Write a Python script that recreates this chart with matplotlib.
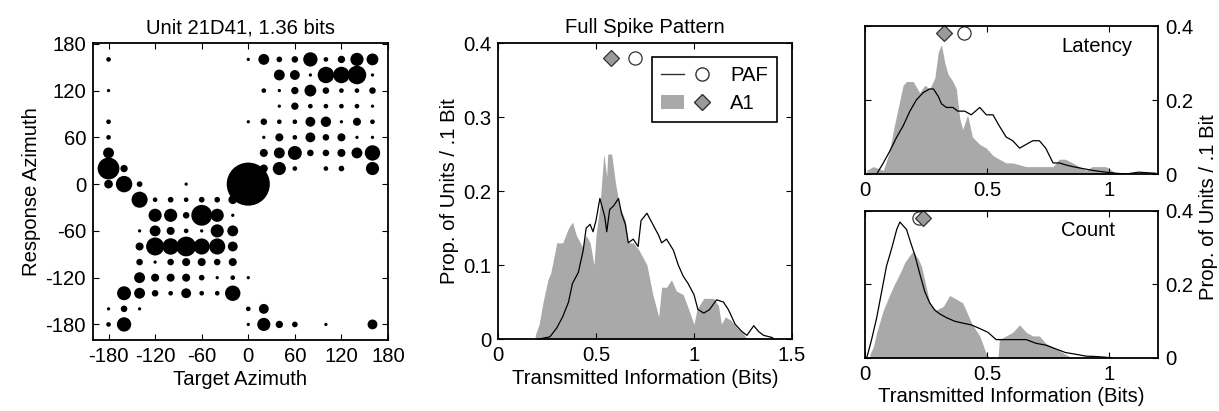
import numpy as np
import matplotlib.pyplot as plt
from matplotlib.lines import Line2D
from matplotlib.patches import Patch
from matplotlib.legend_handler import HandlerTuple

plt.rcParams['font.family'] = ['Liberation Sans', 'DejaVu Sans']
plt.rcParams['font.size'] = 14.6
plt.rcParams['axes.unicode_minus'] = False
FS = 14.6

# confusion matrix of unit 21D41: rows = response azimuth (160 .. -180), cols = target azimuth (-180 .. 160)
azimuths = list(range(-180, 180, 20))
responses = list(range(160, -200, -20))
counts = [
    [2, 0, 0, 0, 0, 0, 0, 0, 0, 1, 11, 3, 4, 19, 2, 5, 16, 13],
    [0, 0, 0, 0, 0, 0, 0, 0, 0, 0, 0, 11, 9, 1, 25, 25, 32, 1],
    [1, 0, 0, 0, 0, 0, 0, 0, 0, 0, 2, 1, 5, 13, 4, 2, 2, 4],
    [0, 0, 0, 0, 0, 0, 0, 0, 0, 0, 0, 1, 5, 2, 2, 2, 2, 1],
    [2, 0, 0, 0, 0, 0, 0, 0, 0, 1, 4, 2, 2, 9, 10, 1, 6, 2],
    [2, 0, 0, 0, 0, 0, 0, 0, 0, 0, 1, 6, 2, 9, 4, 6, 1, 1],
    [11, 0, 0, 0, 0, 0, 0, 0, 0, 0, 6, 11, 18, 4, 4, 6, 11, 22],
    [44, 5, 0, 0, 0, 0, 0, 0, 0, 0, 6, 16, 2, 0, 2, 3, 0, 16],
    [7, 25, 3, 0, 0, 1, 0, 0, 0, 172, 0, 0, 0, 0, 0, 0, 0, 0],
    [0, 0, 24, 2, 3, 2, 3, 3, 7, 0, 0, 0, 0, 0, 0, 0, 0, 0],
    [0, 0, 0, 16, 16, 4, 40, 16, 1, 0, 0, 0, 0, 0, 0, 0, 0, 0],
    [0, 0, 1, 11, 6, 2, 1, 16, 11, 0, 0, 0, 0, 0, 0, 0, 0, 0],
    [0, 0, 6, 30, 25, 36, 24, 24, 9, 0, 0, 0, 0, 0, 0, 0, 0, 0],
    [0, 0, 4, 1, 4, 6, 6, 4, 6, 0, 0, 0, 0, 0, 0, 0, 0, 0],
    [0, 0, 11, 6, 6, 6, 3, 1, 2, 1, 0, 0, 0, 0, 0, 0, 0, 0],
    [0, 18, 11, 4, 2, 9, 2, 2, 22, 0, 0, 0, 0, 0, 0, 0, 0, 0],
    [1, 4, 1, 0, 0, 0, 0, 0, 0, 2, 9, 0, 0, 0, 0, 0, 0, 0],
    [2, 19, 0, 0, 0, 0, 0, 0, 0, 1, 16, 5, 3, 0, 1, 0, 0, 9],
]

# full spike pattern
full_a1_x = [0.19, 0.21, 0.23, 0.255, 0.27, 0.30, 0.33, 0.36, 0.38, 0.40, 0.42, 0.43, 0.45, 0.47,
             0.49, 0.50, 0.52, 0.54, 0.555, 0.56, 0.58, 0.60, 0.62, 0.65, 0.665, 0.69, 0.72, 0.76,
             0.775, 0.79, 0.82, 0.835, 0.86, 0.885, 0.91, 0.945, 0.98, 1.0, 1.015, 1.05, 1.10,
             1.125, 1.14, 1.16, 1.19, 1.22, 1.25, 1.27]
full_a1_y = [0.005, 0.02, 0.05, 0.08, 0.09, 0.13, 0.13, 0.15, 0.158, 0.14, 0.13, 0.125, 0.14, 0.13,
             0.10, 0.14, 0.18, 0.25, 0.22, 0.25, 0.25, 0.21, 0.18, 0.16, 0.13, 0.13, 0.12, 0.10,
             0.08, 0.06, 0.03, 0.07, 0.07, 0.08, 0.065, 0.06, 0.035, 0.02, 0.04, 0.055, 0.055,
             0.045, 0.02, 0.03, 0.025, 0.015, 0.008, 0.0]
full_paf_x = [0.21, 0.265, 0.30, 0.33, 0.36, 0.38, 0.41, 0.435, 0.45, 0.47, 0.485, 0.50, 0.52, 0.535,
              0.545, 0.555, 0.57, 0.59, 0.615, 0.63, 0.65, 0.665, 0.69, 0.715, 0.73, 0.76, 0.79,
              0.82, 0.835, 0.86, 0.895, 0.92, 0.945, 0.97, 1.0, 1.02, 1.05, 1.08, 1.115, 1.15, 1.175,
              1.21, 1.245, 1.27, 1.305, 1.33, 1.355, 1.40, 1.405]
full_paf_y = [0.0, 0.003, 0.015, 0.03, 0.05, 0.075, 0.09, 0.12, 0.15, 0.155, 0.145, 0.16, 0.19, 0.175,
              0.165, 0.145, 0.175, 0.18, 0.19, 0.17, 0.155, 0.13, 0.135, 0.125, 0.16, 0.17, 0.155,
              0.14, 0.13, 0.135, 0.12, 0.10, 0.085, 0.075, 0.06, 0.04, 0.035, 0.04, 0.053, 0.05, 0.04,
              0.02, 0.01, 0.005, 0.018, 0.01, 0.005, 0.002, 0.0]
full_means = {'A1': 0.575, 'PAF': 0.70}

# latency
lat_a1_x = [0.007, 0.034, 0.075, 0.10, 0.12, 0.143, 0.156, 0.17, 0.197, 0.224, 0.245, 0.265, 0.286,
            0.30, 0.313, 0.327, 0.34, 0.36, 0.374, 0.388, 0.40, 0.42, 0.44, 0.47, 0.497, 0.524,
            0.55, 0.578, 0.605, 0.66, 0.714, 0.77, 0.795, 0.82, 0.85, 0.877, 0.905, 0.93, 0.96,
            0.986, 1.01, 1.03]
lat_a1_y = [0.01, 0.02, 0.01, 0.06, 0.13, 0.20, 0.24, 0.25, 0.25, 0.22, 0.24, 0.23, 0.26, 0.33,
            0.35, 0.30, 0.27, 0.25, 0.23, 0.15, 0.12, 0.16, 0.10, 0.08, 0.07, 0.05, 0.04, 0.03,
            0.03, 0.02, 0.02, 0.02, 0.04, 0.04, 0.03, 0.02, 0.01, 0.02, 0.02, 0.02, 0.01, 0.0]
lat_paf_x = [0.048, 0.075, 0.10, 0.13, 0.156, 0.184, 0.21, 0.238, 0.265, 0.28, 0.30, 0.313, 0.333,
             0.36, 0.38, 0.408, 0.435, 0.47, 0.497, 0.524, 0.55, 0.578, 0.605, 0.633, 0.66, 0.687,
             0.714, 0.74, 0.77, 0.795, 0.82, 0.85, 0.89, 0.93, 0.986, 1.03, 1.07, 1.12, 1.19]
lat_paf_y = [0.0, 0.03, 0.06, 0.10, 0.13, 0.17, 0.20, 0.22, 0.23, 0.23, 0.21, 0.19, 0.18, 0.18,
             0.17, 0.17, 0.16, 0.18, 0.16, 0.16, 0.13, 0.10, 0.09, 0.07, 0.08, 0.09, 0.09, 0.07,
             0.03, 0.03, 0.025, 0.02, 0.015, 0.01, 0.005, 0.002, 0.0, 0.005, 0.002]
lat_means = {'A1': 0.324, 'PAF': 0.405}

# count
cnt_a1_x = [0.02, 0.034, 0.048, 0.075, 0.10, 0.12, 0.143, 0.163, 0.184, 0.197, 0.218, 0.231, 0.245,
            0.265, 0.29, 0.32, 0.347, 0.374, 0.40, 0.42, 0.44, 0.47, 0.497, 0.51, 0.545, 0.55,
            0.578, 0.605, 0.633, 0.66, 0.687, 0.714, 0.74, 0.77, 0.795, 0.82, 0.85]
cnt_a1_y = [0.01, 0.03, 0.07, 0.13, 0.17, 0.20, 0.23, 0.26, 0.28, 0.29, 0.27, 0.25, 0.21, 0.15,
            0.13, 0.14, 0.17, 0.16, 0.15, 0.12, 0.09, 0.06, 0.01, 0.0, 0.0, 0.05, 0.06, 0.07,
            0.09, 0.07, 0.06, 0.06, 0.04, 0.03, 0.02, 0.01, 0.0]
cnt_paf_x = [0.007, 0.027, 0.048, 0.068, 0.088, 0.11, 0.13, 0.143, 0.156, 0.17, 0.184, 0.204, 0.224,
             0.245, 0.265, 0.286, 0.306, 0.333, 0.367, 0.40, 0.435, 0.47, 0.503, 0.537, 0.578,
             0.62, 0.66, 0.70, 0.74, 0.78, 0.82, 0.864, 0.905, 0.945, 0.986, 1.01]
cnt_paf_y = [0.0, 0.05, 0.11, 0.18, 0.25, 0.30, 0.35, 0.37, 0.36, 0.35, 0.32, 0.28, 0.23, 0.18,
             0.15, 0.13, 0.12, 0.11, 0.10, 0.095, 0.09, 0.08, 0.07, 0.05, 0.05, 0.05, 0.05, 0.04,
             0.035, 0.025, 0.015, 0.01, 0.005, 0.004, 0.002, 0.0]
cnt_means = {'A1': 0.237, 'PAF': 0.222}

GRAY = '#a9a9a9'
MGRAY = '#9a9a9a'


def style(ax):
    ax.tick_params(direction='in', top=True, right=True, length=4, width=0.8, labelsize=FS, pad=5)
    for s in ax.spines.values():
        s.set_linewidth(1.3)


def draw_means(ax, means, y=0.38):
    ax.plot(means['PAF'], y, 'o', ms=9.5, mfc='white', mec='#333333', mew=0.9, clip_on=False)
    ax.plot(means['A1'], y, 'D', ms=8, mfc=MGRAY, mec='#333333', mew=0.9, clip_on=False)


fig = plt.figure(figsize=(12.19, 4.11), dpi=100)

# left: confusion matrix
ax1 = fig.add_axes([0.0763, 0.1727, 0.242, 0.7226])
X, Y = np.meshgrid(azimuths, responses)
C = np.array(counts, dtype=float)
m = C > 0
ax1.scatter(X[m], Y[m], s=C[m] * 5.6, c='black', linewidths=0)
ax1.set_xlim(-200, 180)
ax1.set_ylim(-200, 181)
ax1.set_xticks([-180, -120, -60, 0, 60, 120, 180])
ax1.set_yticks([-180, -120, -60, 0, 60, 120, 180])
ax1.set_xlabel('Target Azimuth', labelpad=3)
ax1.set_ylabel('Response Azimuth', labelpad=3)
ax1.set_title('Unit 21D41, 1.36 bits', fontsize=FS, pad=7)
style(ax1)

# middle: full spike pattern
ax2 = fig.add_axes([0.4085, 0.1751, 0.2412, 0.7202])
ax2.fill_between(full_a1_x, full_a1_y, 0, color=GRAY, lw=0)
ax2.plot(full_paf_x, full_paf_y, color='black', lw=0.9)
draw_means(ax2, full_means)
ax2.set_xlim(0, 1.5)
ax2.set_ylim(0, 0.4)
ax2.set_xticks([0, 0.5, 1, 1.5])
ax2.set_xticklabels(['0', '0.5', '1', '1.5'])
ax2.set_yticks([0, 0.1, 0.2, 0.3, 0.4])
ax2.set_yticklabels(['0', '0.1', '0.2', '0.3', '0.4'])
ax2.set_xlabel('Transmitted Information (Bits)', labelpad=3)
ax2.set_ylabel('Prop. of Units / .1 Bit', labelpad=3)
ax2.set_title('Full Spike Pattern', fontsize=FS, pad=7)
style(ax2)
h_paf = (Line2D([], [], color='#333333', lw=1.0),
         Line2D([], [], ls='', marker='o', ms=9.5, mfc='white', mec='#333333'))
h_a1 = (Patch(fc=GRAY, ec='none'),
        Line2D([], [], ls='', marker='D', ms=8, mfc=MGRAY, mec='#333333'))
leg = ax2.legend([h_paf, h_a1], ['PAF', 'A1'], handler_map={tuple: HandlerTuple(ndivide=None, pad=0.3)},
                 loc='upper right', bbox_to_anchor=(0.949, 0.953), borderaxespad=0, fancybox=False,
                 handlelength=2.6, handletextpad=0.8, fontsize=FS, edgecolor='black', framealpha=1,
                 borderpad=0.45, labelspacing=0.45)
leg.get_frame().set_linewidth(1.2)

# right top: latency
ax3 = fig.add_axes([0.7096, 0.5766, 0.2404, 0.360])
ax3.fill_between(lat_a1_x, lat_a1_y, 0, color=GRAY, lw=0)
ax3.plot(lat_paf_x, lat_paf_y, color='black', lw=0.9)
draw_means(ax3, lat_means)
ax3.text(0.79, 0.86, 'Latency', transform=ax3.transAxes, ha='center', va='center', fontsize=FS)

# right bottom: count
ax4 = fig.add_axes([0.7096, 0.129, 0.2404, 0.3577])
ax4.fill_between(cnt_a1_x, cnt_a1_y, 0, color=GRAY, lw=0)
ax4.plot(cnt_paf_x, cnt_paf_y, color='black', lw=0.9)
draw_means(ax4, cnt_means)
ax4.text(0.76, 0.87, 'Count', transform=ax4.transAxes, ha='center', va='center', fontsize=FS)
ax4.set_xlabel('Transmitted Information (Bits)', labelpad=2)

for ax in (ax3, ax4):
    ax.set_xlim(0, 1.2)
    ax.set_ylim(0, 0.4)
    ax.set_xticks([0, 0.5, 1])
    ax.set_xticklabels(['0', '0.5', '1'])
    ax.set_yticks([0, 0.2, 0.4])
    ax.set_yticklabels(['0', '0.2', '0.4'])
    style(ax)
    ax.tick_params(labelleft=False, labelright=True)

fig.text(0.991, 0.496, 'Prop. of Units / .1 Bit', rotation=90, ha='center', va='center', fontsize=FS)

fig.savefig('out.png', dpi=100)
